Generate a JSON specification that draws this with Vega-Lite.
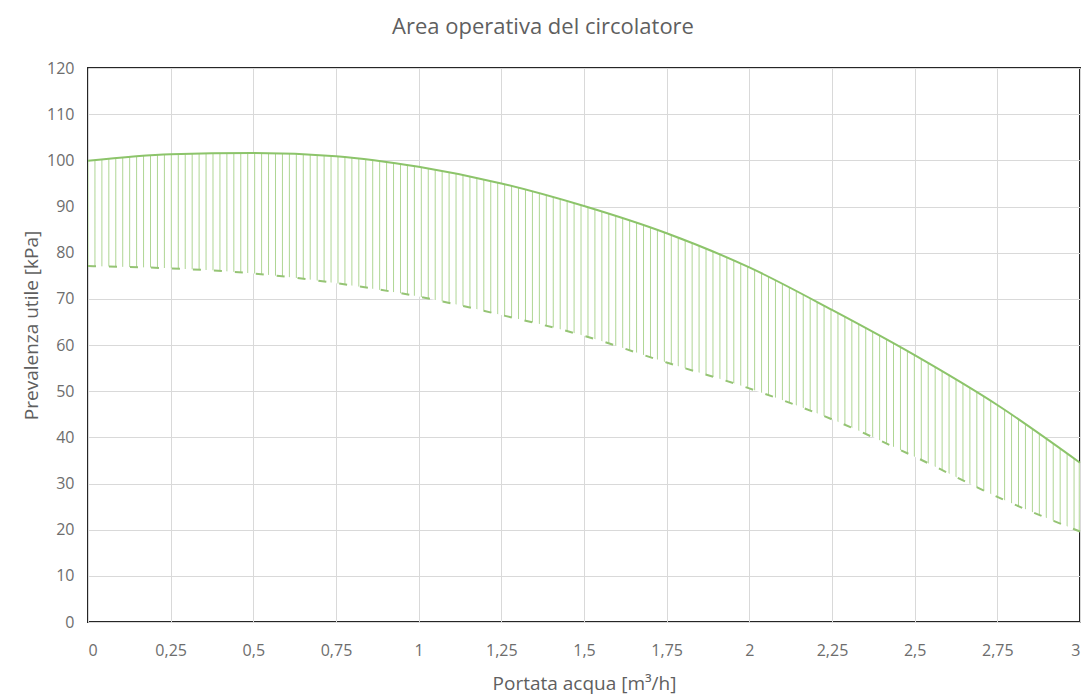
{
  "$schema": "https://vega.github.io/schema/vega-lite/v6.json",
  "width": 992,
  "height": 554,
  "autosize": {"type": "none"},
  "padding": {"left": 88, "top": 68, "right": 8, "bottom": 73},
  "background": "white",
  "config": {
    "view": {"stroke": "#262626", "strokeWidth": 2},
    "font": "Open Sans"
  },
  "title": {
    "text": "Area operativa del circolatore",
    "fontSize": 22,
    "fontWeight": "normal",
    "color": "#5f5f5f",
    "anchor": "middle",
    "dx": -41,
    "offset": 21
  },
  "data": {
    "values": [
      {"q": 0, "hi": 99.9, "lo": 77.1},
      {"q": 0.25, "hi": 101.3, "lo": 76.6},
      {"q": 0.5, "hi": 101.6, "lo": 75.5},
      {"q": 0.75, "hi": 100.9, "lo": 73.4},
      {"q": 1, "hi": 98.6, "lo": 70.5},
      {"q": 1.25, "hi": 95.0, "lo": 66.5},
      {"q": 1.5, "hi": 90.1, "lo": 62.0},
      {"q": 1.75, "hi": 84.2, "lo": 56.2},
      {"q": 2, "hi": 76.8, "lo": 50.6},
      {"q": 2.25, "hi": 67.6, "lo": 43.9},
      {"q": 2.5, "hi": 57.8, "lo": 35.8},
      {"q": 2.75, "hi": 47.0, "lo": 27.1},
      {"q": 3, "hi": 34.5, "lo": 19.6}
    ]
  },
  "encoding": {
    "x": {
      "field": "q",
      "type": "quantitative",
      "scale": {"domain": [0, 3], "nice": false},
      "axis": {
        "values": [0, 0.25, 0.5, 0.75, 1, 1.25, 1.5, 1.75, 2, 2.25, 2.5, 2.75, 3],
        "labelExpr": "replace(toString(datum.value), '.', ',')",
        "domain": false,
        "ticks": false,
        "grid": true,
        "gridColor": "#d9d9d9",
        "labelColor": "#6d6d6d",
        "labelFontSize": 16,
        "labelPadding": 20,
        "title": "Portata acqua [m³/h]",
        "titleColor": "#5f5f5f",
        "titleFontSize": 19,
        "titleFontWeight": "normal",
        "titlePadding": 16
      }
    }
  },
  "layer": [
    {
      "mark": {
        "type": "area",
        "interpolate": "monotone",
        "stroke": null,
        "fill": {
          "gradient": "linear",
          "x1": 0, "y1": 0, "x2": 1, "y2": 0,
          "stops": [
            {"offset":0,"color":"#aed593"},{"offset":0.001,"color":"#fff"},
            {"offset":0.006,"color":"#fff"},{"offset":0.007,"color":"#aed593"},{"offset":0.008,"color":"#fff"},
            {"offset":0.013,"color":"#fff"},{"offset":0.014,"color":"#aed593"},{"offset":0.015,"color":"#fff"},
            {"offset":0.020,"color":"#fff"},{"offset":0.021,"color":"#aed593"},{"offset":0.022,"color":"#fff"},
            {"offset":0.027,"color":"#fff"},{"offset":0.028,"color":"#aed593"},{"offset":0.029,"color":"#fff"},
            {"offset":0.034,"color":"#fff"},{"offset":0.035,"color":"#aed593"},{"offset":0.036,"color":"#fff"},
            {"offset":0.041,"color":"#fff"},{"offset":0.042,"color":"#aed593"},{"offset":0.043,"color":"#fff"},
            {"offset":0.048,"color":"#fff"},{"offset":0.049,"color":"#aed593"},{"offset":0.050,"color":"#fff"},
            {"offset":0.055,"color":"#fff"},{"offset":0.056,"color":"#aed593"},{"offset":0.057,"color":"#fff"},
            {"offset":0.062,"color":"#fff"},{"offset":0.063,"color":"#aed593"},{"offset":0.064,"color":"#fff"},
            {"offset":0.069,"color":"#fff"},{"offset":0.070,"color":"#aed593"},{"offset":0.071,"color":"#fff"},
            {"offset":0.076,"color":"#fff"},{"offset":0.077,"color":"#aed593"},{"offset":0.078,"color":"#fff"},
            {"offset":0.083,"color":"#fff"},{"offset":0.084,"color":"#aed593"},{"offset":0.085,"color":"#fff"},
            {"offset":0.090,"color":"#fff"},{"offset":0.091,"color":"#aed593"},{"offset":0.092,"color":"#fff"},
            {"offset":0.097,"color":"#fff"},{"offset":0.098,"color":"#aed593"},{"offset":0.099,"color":"#fff"},
            {"offset":0.104,"color":"#fff"},{"offset":0.105,"color":"#aed593"},{"offset":0.106,"color":"#fff"},
            {"offset":0.111,"color":"#fff"},{"offset":0.112,"color":"#aed593"},{"offset":0.113,"color":"#fff"},
            {"offset":0.118,"color":"#fff"},{"offset":0.119,"color":"#aed593"},{"offset":0.120,"color":"#fff"},
            {"offset":0.125,"color":"#fff"},{"offset":0.126,"color":"#aed593"},{"offset":0.127,"color":"#fff"},
            {"offset":0.132,"color":"#fff"},{"offset":0.133,"color":"#aed593"},{"offset":0.134,"color":"#fff"},
            {"offset":0.139,"color":"#fff"},{"offset":0.140,"color":"#aed593"},{"offset":0.141,"color":"#fff"},
            {"offset":0.146,"color":"#fff"},{"offset":0.147,"color":"#aed593"},{"offset":0.148,"color":"#fff"},
            {"offset":0.153,"color":"#fff"},{"offset":0.154,"color":"#aed593"},{"offset":0.155,"color":"#fff"},
            {"offset":0.160,"color":"#fff"},{"offset":0.161,"color":"#aed593"},{"offset":0.162,"color":"#fff"},
            {"offset":0.167,"color":"#fff"},{"offset":0.168,"color":"#aed593"},{"offset":0.169,"color":"#fff"},
            {"offset":0.174,"color":"#fff"},{"offset":0.175,"color":"#aed593"},{"offset":0.176,"color":"#fff"},
            {"offset":0.181,"color":"#fff"},{"offset":0.182,"color":"#aed593"},{"offset":0.183,"color":"#fff"},
            {"offset":0.188,"color":"#fff"},{"offset":0.189,"color":"#aed593"},{"offset":0.190,"color":"#fff"},
            {"offset":0.195,"color":"#fff"},{"offset":0.196,"color":"#aed593"},{"offset":0.197,"color":"#fff"},
            {"offset":0.202,"color":"#fff"},{"offset":0.203,"color":"#aed593"},{"offset":0.204,"color":"#fff"},
            {"offset":0.209,"color":"#fff"},{"offset":0.210,"color":"#aed593"},{"offset":0.211,"color":"#fff"},
            {"offset":0.216,"color":"#fff"},{"offset":0.217,"color":"#aed593"},{"offset":0.218,"color":"#fff"},
            {"offset":0.223,"color":"#fff"},{"offset":0.224,"color":"#aed593"},{"offset":0.225,"color":"#fff"},
            {"offset":0.230,"color":"#fff"},{"offset":0.231,"color":"#aed593"},{"offset":0.232,"color":"#fff"},
            {"offset":0.237,"color":"#fff"},{"offset":0.238,"color":"#aed593"},{"offset":0.239,"color":"#fff"},
            {"offset":0.244,"color":"#fff"},{"offset":0.245,"color":"#aed593"},{"offset":0.246,"color":"#fff"},
            {"offset":0.251,"color":"#fff"},{"offset":0.252,"color":"#aed593"},{"offset":0.253,"color":"#fff"},
            {"offset":0.258,"color":"#fff"},{"offset":0.259,"color":"#aed593"},{"offset":0.260,"color":"#fff"},
            {"offset":0.265,"color":"#fff"},{"offset":0.266,"color":"#aed593"},{"offset":0.267,"color":"#fff"},
            {"offset":0.272,"color":"#fff"},{"offset":0.273,"color":"#aed593"},{"offset":0.274,"color":"#fff"},
            {"offset":0.279,"color":"#fff"},{"offset":0.280,"color":"#aed593"},{"offset":0.281,"color":"#fff"},
            {"offset":0.286,"color":"#fff"},{"offset":0.287,"color":"#aed593"},{"offset":0.288,"color":"#fff"},
            {"offset":0.293,"color":"#fff"},{"offset":0.294,"color":"#aed593"},{"offset":0.295,"color":"#fff"},
            {"offset":0.300,"color":"#fff"},{"offset":0.301,"color":"#aed593"},{"offset":0.302,"color":"#fff"},
            {"offset":0.307,"color":"#fff"},{"offset":0.308,"color":"#aed593"},{"offset":0.309,"color":"#fff"},
            {"offset":0.314,"color":"#fff"},{"offset":0.315,"color":"#aed593"},{"offset":0.316,"color":"#fff"},
            {"offset":0.321,"color":"#fff"},{"offset":0.322,"color":"#aed593"},{"offset":0.323,"color":"#fff"},
            {"offset":0.328,"color":"#fff"},{"offset":0.329,"color":"#aed593"},{"offset":0.330,"color":"#fff"},
            {"offset":0.335,"color":"#fff"},{"offset":0.336,"color":"#aed593"},{"offset":0.337,"color":"#fff"},
            {"offset":0.342,"color":"#fff"},{"offset":0.343,"color":"#aed593"},{"offset":0.344,"color":"#fff"},
            {"offset":0.349,"color":"#fff"},{"offset":0.350,"color":"#aed593"},{"offset":0.351,"color":"#fff"},
            {"offset":0.356,"color":"#fff"},{"offset":0.357,"color":"#aed593"},{"offset":0.358,"color":"#fff"},
            {"offset":0.363,"color":"#fff"},{"offset":0.364,"color":"#aed593"},{"offset":0.365,"color":"#fff"},
            {"offset":0.370,"color":"#fff"},{"offset":0.371,"color":"#aed593"},{"offset":0.372,"color":"#fff"},
            {"offset":0.377,"color":"#fff"},{"offset":0.378,"color":"#aed593"},{"offset":0.379,"color":"#fff"},
            {"offset":0.384,"color":"#fff"},{"offset":0.385,"color":"#aed593"},{"offset":0.386,"color":"#fff"},
            {"offset":0.391,"color":"#fff"},{"offset":0.392,"color":"#aed593"},{"offset":0.393,"color":"#fff"},
            {"offset":0.398,"color":"#fff"},{"offset":0.399,"color":"#aed593"},{"offset":0.400,"color":"#fff"},
            {"offset":0.405,"color":"#fff"},{"offset":0.406,"color":"#aed593"},{"offset":0.407,"color":"#fff"},
            {"offset":0.412,"color":"#fff"},{"offset":0.413,"color":"#aed593"},{"offset":0.414,"color":"#fff"},
            {"offset":0.419,"color":"#fff"},{"offset":0.420,"color":"#aed593"},{"offset":0.421,"color":"#fff"},
            {"offset":0.426,"color":"#fff"},{"offset":0.427,"color":"#aed593"},{"offset":0.428,"color":"#fff"},
            {"offset":0.433,"color":"#fff"},{"offset":0.434,"color":"#aed593"},{"offset":0.435,"color":"#fff"},
            {"offset":0.440,"color":"#fff"},{"offset":0.441,"color":"#aed593"},{"offset":0.442,"color":"#fff"},
            {"offset":0.447,"color":"#fff"},{"offset":0.448,"color":"#aed593"},{"offset":0.449,"color":"#fff"},
            {"offset":0.454,"color":"#fff"},{"offset":0.455,"color":"#aed593"},{"offset":0.456,"color":"#fff"},
            {"offset":0.461,"color":"#fff"},{"offset":0.462,"color":"#aed593"},{"offset":0.463,"color":"#fff"},
            {"offset":0.468,"color":"#fff"},{"offset":0.469,"color":"#aed593"},{"offset":0.470,"color":"#fff"},
            {"offset":0.475,"color":"#fff"},{"offset":0.476,"color":"#aed593"},{"offset":0.477,"color":"#fff"},
            {"offset":0.482,"color":"#fff"},{"offset":0.483,"color":"#aed593"},{"offset":0.484,"color":"#fff"},
            {"offset":0.489,"color":"#fff"},{"offset":0.490,"color":"#aed593"},{"offset":0.491,"color":"#fff"},
            {"offset":0.496,"color":"#fff"},{"offset":0.497,"color":"#aed593"},{"offset":0.498,"color":"#fff"},
            {"offset":0.503,"color":"#fff"},{"offset":0.504,"color":"#aed593"},{"offset":0.505,"color":"#fff"},
            {"offset":0.510,"color":"#fff"},{"offset":0.511,"color":"#aed593"},{"offset":0.512,"color":"#fff"},
            {"offset":0.517,"color":"#fff"},{"offset":0.518,"color":"#aed593"},{"offset":0.519,"color":"#fff"},
            {"offset":0.524,"color":"#fff"},{"offset":0.525,"color":"#aed593"},{"offset":0.526,"color":"#fff"},
            {"offset":0.531,"color":"#fff"},{"offset":0.532,"color":"#aed593"},{"offset":0.533,"color":"#fff"},
            {"offset":0.538,"color":"#fff"},{"offset":0.539,"color":"#aed593"},{"offset":0.540,"color":"#fff"},
            {"offset":0.545,"color":"#fff"},{"offset":0.546,"color":"#aed593"},{"offset":0.547,"color":"#fff"},
            {"offset":0.552,"color":"#fff"},{"offset":0.553,"color":"#aed593"},{"offset":0.554,"color":"#fff"},
            {"offset":0.559,"color":"#fff"},{"offset":0.560,"color":"#aed593"},{"offset":0.561,"color":"#fff"},
            {"offset":0.566,"color":"#fff"},{"offset":0.567,"color":"#aed593"},{"offset":0.568,"color":"#fff"},
            {"offset":0.573,"color":"#fff"},{"offset":0.574,"color":"#aed593"},{"offset":0.575,"color":"#fff"},
            {"offset":0.580,"color":"#fff"},{"offset":0.581,"color":"#aed593"},{"offset":0.582,"color":"#fff"},
            {"offset":0.587,"color":"#fff"},{"offset":0.588,"color":"#aed593"},{"offset":0.589,"color":"#fff"},
            {"offset":0.594,"color":"#fff"},{"offset":0.595,"color":"#aed593"},{"offset":0.596,"color":"#fff"},
            {"offset":0.601,"color":"#fff"},{"offset":0.602,"color":"#aed593"},{"offset":0.603,"color":"#fff"},
            {"offset":0.608,"color":"#fff"},{"offset":0.609,"color":"#aed593"},{"offset":0.610,"color":"#fff"},
            {"offset":0.615,"color":"#fff"},{"offset":0.616,"color":"#aed593"},{"offset":0.617,"color":"#fff"},
            {"offset":0.622,"color":"#fff"},{"offset":0.623,"color":"#aed593"},{"offset":0.624,"color":"#fff"},
            {"offset":0.629,"color":"#fff"},{"offset":0.630,"color":"#aed593"},{"offset":0.631,"color":"#fff"},
            {"offset":0.636,"color":"#fff"},{"offset":0.637,"color":"#aed593"},{"offset":0.638,"color":"#fff"},
            {"offset":0.643,"color":"#fff"},{"offset":0.644,"color":"#aed593"},{"offset":0.645,"color":"#fff"},
            {"offset":0.650,"color":"#fff"},{"offset":0.651,"color":"#aed593"},{"offset":0.652,"color":"#fff"},
            {"offset":0.657,"color":"#fff"},{"offset":0.658,"color":"#aed593"},{"offset":0.659,"color":"#fff"},
            {"offset":0.664,"color":"#fff"},{"offset":0.665,"color":"#aed593"},{"offset":0.666,"color":"#fff"},
            {"offset":0.671,"color":"#fff"},{"offset":0.672,"color":"#aed593"},{"offset":0.673,"color":"#fff"},
            {"offset":0.678,"color":"#fff"},{"offset":0.679,"color":"#aed593"},{"offset":0.680,"color":"#fff"},
            {"offset":0.685,"color":"#fff"},{"offset":0.686,"color":"#aed593"},{"offset":0.687,"color":"#fff"},
            {"offset":0.692,"color":"#fff"},{"offset":0.693,"color":"#aed593"},{"offset":0.694,"color":"#fff"},
            {"offset":0.699,"color":"#fff"},{"offset":0.700,"color":"#aed593"},{"offset":0.701,"color":"#fff"},
            {"offset":0.706,"color":"#fff"},{"offset":0.707,"color":"#aed593"},{"offset":0.708,"color":"#fff"},
            {"offset":0.713,"color":"#fff"},{"offset":0.714,"color":"#aed593"},{"offset":0.715,"color":"#fff"},
            {"offset":0.720,"color":"#fff"},{"offset":0.721,"color":"#aed593"},{"offset":0.722,"color":"#fff"},
            {"offset":0.727,"color":"#fff"},{"offset":0.728,"color":"#aed593"},{"offset":0.729,"color":"#fff"},
            {"offset":0.734,"color":"#fff"},{"offset":0.735,"color":"#aed593"},{"offset":0.736,"color":"#fff"},
            {"offset":0.741,"color":"#fff"},{"offset":0.742,"color":"#aed593"},{"offset":0.743,"color":"#fff"},
            {"offset":0.748,"color":"#fff"},{"offset":0.749,"color":"#aed593"},{"offset":0.750,"color":"#fff"},
            {"offset":0.755,"color":"#fff"},{"offset":0.756,"color":"#aed593"},{"offset":0.757,"color":"#fff"},
            {"offset":0.762,"color":"#fff"},{"offset":0.763,"color":"#aed593"},{"offset":0.764,"color":"#fff"},
            {"offset":0.769,"color":"#fff"},{"offset":0.770,"color":"#aed593"},{"offset":0.771,"color":"#fff"},
            {"offset":0.776,"color":"#fff"},{"offset":0.777,"color":"#aed593"},{"offset":0.778,"color":"#fff"},
            {"offset":0.783,"color":"#fff"},{"offset":0.784,"color":"#aed593"},{"offset":0.785,"color":"#fff"},
            {"offset":0.790,"color":"#fff"},{"offset":0.791,"color":"#aed593"},{"offset":0.792,"color":"#fff"},
            {"offset":0.797,"color":"#fff"},{"offset":0.798,"color":"#aed593"},{"offset":0.799,"color":"#fff"},
            {"offset":0.804,"color":"#fff"},{"offset":0.805,"color":"#aed593"},{"offset":0.806,"color":"#fff"},
            {"offset":0.811,"color":"#fff"},{"offset":0.812,"color":"#aed593"},{"offset":0.813,"color":"#fff"},
            {"offset":0.818,"color":"#fff"},{"offset":0.819,"color":"#aed593"},{"offset":0.820,"color":"#fff"},
            {"offset":0.825,"color":"#fff"},{"offset":0.826,"color":"#aed593"},{"offset":0.827,"color":"#fff"},
            {"offset":0.832,"color":"#fff"},{"offset":0.833,"color":"#aed593"},{"offset":0.834,"color":"#fff"},
            {"offset":0.839,"color":"#fff"},{"offset":0.840,"color":"#aed593"},{"offset":0.841,"color":"#fff"},
            {"offset":0.846,"color":"#fff"},{"offset":0.847,"color":"#aed593"},{"offset":0.848,"color":"#fff"},
            {"offset":0.853,"color":"#fff"},{"offset":0.854,"color":"#aed593"},{"offset":0.855,"color":"#fff"},
            {"offset":0.860,"color":"#fff"},{"offset":0.861,"color":"#aed593"},{"offset":0.862,"color":"#fff"},
            {"offset":0.867,"color":"#fff"},{"offset":0.868,"color":"#aed593"},{"offset":0.869,"color":"#fff"},
            {"offset":0.874,"color":"#fff"},{"offset":0.875,"color":"#aed593"},{"offset":0.876,"color":"#fff"},
            {"offset":0.881,"color":"#fff"},{"offset":0.882,"color":"#aed593"},{"offset":0.883,"color":"#fff"},
            {"offset":0.888,"color":"#fff"},{"offset":0.889,"color":"#aed593"},{"offset":0.890,"color":"#fff"},
            {"offset":0.895,"color":"#fff"},{"offset":0.896,"color":"#aed593"},{"offset":0.897,"color":"#fff"},
            {"offset":0.902,"color":"#fff"},{"offset":0.903,"color":"#aed593"},{"offset":0.904,"color":"#fff"},
            {"offset":0.909,"color":"#fff"},{"offset":0.910,"color":"#aed593"},{"offset":0.911,"color":"#fff"},
            {"offset":0.916,"color":"#fff"},{"offset":0.917,"color":"#aed593"},{"offset":0.918,"color":"#fff"},
            {"offset":0.923,"color":"#fff"},{"offset":0.924,"color":"#aed593"},{"offset":0.925,"color":"#fff"},
            {"offset":0.930,"color":"#fff"},{"offset":0.931,"color":"#aed593"},{"offset":0.932,"color":"#fff"},
            {"offset":0.937,"color":"#fff"},{"offset":0.938,"color":"#aed593"},{"offset":0.939,"color":"#fff"},
            {"offset":0.944,"color":"#fff"},{"offset":0.945,"color":"#aed593"},{"offset":0.946,"color":"#fff"},
            {"offset":0.951,"color":"#fff"},{"offset":0.952,"color":"#aed593"},{"offset":0.953,"color":"#fff"},
            {"offset":0.958,"color":"#fff"},{"offset":0.959,"color":"#aed593"},{"offset":0.960,"color":"#fff"},
            {"offset":0.965,"color":"#fff"},{"offset":0.966,"color":"#aed593"},{"offset":0.967,"color":"#fff"},
            {"offset":0.972,"color":"#fff"},{"offset":0.973,"color":"#aed593"},{"offset":0.974,"color":"#fff"},
            {"offset":0.979,"color":"#fff"},{"offset":0.980,"color":"#aed593"},{"offset":0.981,"color":"#fff"},
            {"offset":0.986,"color":"#fff"},{"offset":0.987,"color":"#aed593"},{"offset":0.988,"color":"#fff"},
            {"offset":0.993,"color":"#fff"},{"offset":0.994,"color":"#aed593"},{"offset":0.995,"color":"#fff"},
            {"offset":0.998,"color":"#fff"},{"offset":1,"color":"#aed593"}
          ]
        }
      },
      "encoding": {
        "y": {
          "field": "hi",
          "type": "quantitative",
          "scale": {"domain": [0, 120], "nice": false},
          "axis": {
            "values": [0, 10, 20, 30, 40, 50, 60, 70, 80, 90, 100, 110, 120],
            "domain": false,
            "ticks": false,
            "grid": true,
            "gridColor": "#d9d9d9",
            "labelColor": "#6d6d6d",
            "labelFontSize": 16,
            "labelPadding": 14,
            "title": "Prevalenza utile [kPa]",
            "titleColor": "#5f5f5f",
            "titleFontSize": 19,
            "titleFontWeight": "normal",
            "titlePadding": 5,
            "titleY": 257
          }
        },
        "y2": {"field": "lo"}
      }
    },
    {
      "mark": {"type": "line", "interpolate": "monotone", "color": "#8cc46a", "strokeWidth": 2},
      "encoding": {"y": {"field": "hi", "type": "quantitative"}}
    },
    {
      "mark": {"type": "line", "interpolate": "monotone", "color": "#95c474", "strokeWidth": 2, "strokeDash": [8, 13]},
      "encoding": {"y": {"field": "lo", "type": "quantitative"}}
    }
  ]
}
